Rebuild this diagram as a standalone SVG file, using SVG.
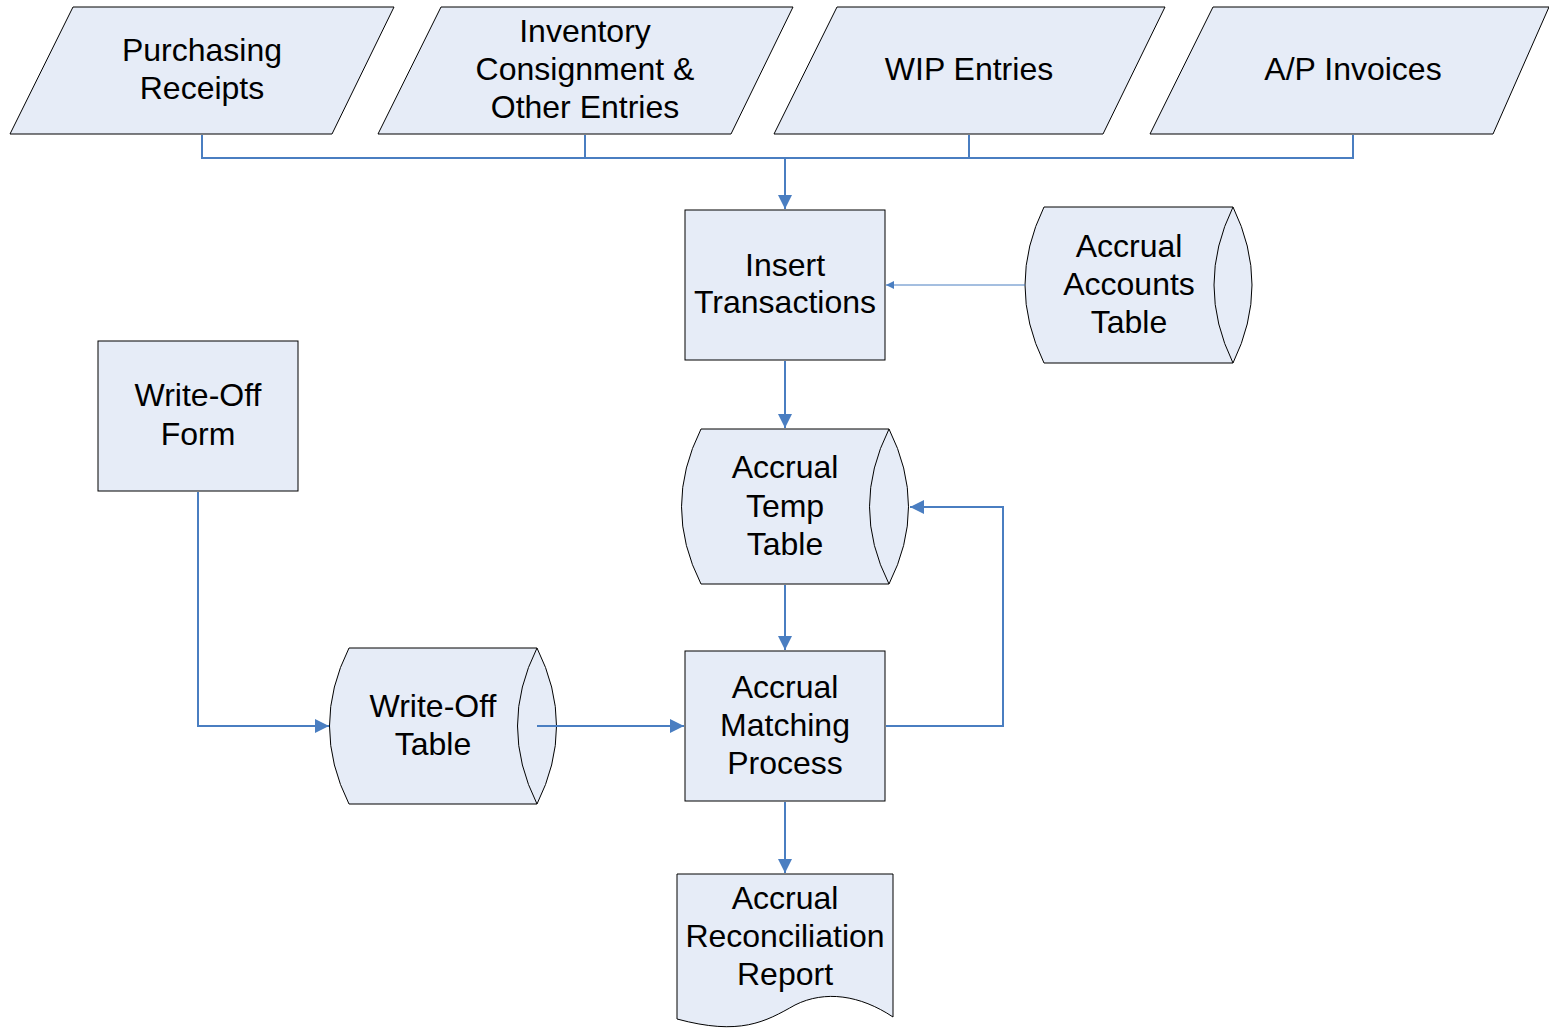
<svg xmlns="http://www.w3.org/2000/svg" width="1549" height="1031" viewBox="0 0 1549 1031">
<defs>
<style>
.s{fill:#E6ECF7;stroke:#000;stroke-width:1}
.i{fill:none;stroke:#000;stroke-width:1}
.t{font-family:"Liberation Sans",Arial,sans-serif;font-size:32px;fill:#000;text-anchor:middle}
.c{fill:none;stroke:#4A7EC1;stroke-width:2}
.c1{fill:none;stroke:#4A7EC1;stroke-width:1}
</style>
<marker id="a" viewBox="0 0 10 10" refX="10" refY="5" markerWidth="8" markerHeight="8" markerUnits="userSpaceOnUse" orient="auto"><path d="M0,0L10,5L0,10z" fill="#4A7EC1"/></marker>
<marker id="b" viewBox="0 0 10 10" refX="10" refY="5" markerWidth="14" markerHeight="14" markerUnits="userSpaceOnUse" orient="auto"><path d="M0,0L10,5L0,10z" fill="#4A7EC1"/></marker>
</defs>
<rect width="1549" height="1031" fill="#fff"/>
<g id="purchasing"><path class="s" d="M73,7H394L332,134H10Z"/><text class="t" x="202" y="61">Purchasing</text><text class="t" x="202" y="99">Receipts</text></g>
<g id="inventory"><path class="s" d="M441,7H793L731,134H378Z"/><text class="t" x="585" y="42">Inventory</text><text class="t" x="585" y="80">Consignment &amp;</text><text class="t" x="585" y="118">Other Entries</text></g>
<g id="wip"><path class="s" d="M837,7H1165L1103,134H774Z"/><text class="t" x="969" y="80">WIP Entries</text></g>
<g id="ap"><path class="s" d="M1213,7H1549L1493,134H1150Z"/><text class="t" x="1353" y="80">A/P Invoices</text></g>
<g id="insert"><rect class="s" x="685" y="210" width="200" height="150"/><text class="t" x="785" y="276">Insert</text><text class="t" x="785" y="313">Transactions</text></g>
<g id="accounts"><path class="s" d="M1044,207H1233Q1271,285 1233,363H1044Q1006,285 1044,207Z"/><path class="i" d="M1233,207Q1195,285 1233,363"/><text class="t" x="1129" y="257">Accrual</text><text class="t" x="1129" y="295">Accounts</text><text class="t" x="1129" y="333">Table</text></g>
<g id="writeoffform"><rect class="s" x="98" y="341" width="200" height="150"/><text class="t" x="198" y="406">Write-Off</text><text class="t" x="198" y="445">Form</text></g>
<g id="temp"><path class="s" d="M701,429H889Q928,507 889,584H701Q662,507 701,429Z"/><path class="i" d="M889,429Q850,507 889,584"/><text class="t" x="785" y="478">Accrual</text><text class="t" x="785" y="517">Temp</text><text class="t" x="785" y="555">Table</text></g>
<g id="writeofftable"><path class="s" d="M349,648H537Q576,726 537,804H349Q310,726 349,648Z"/><path class="i" d="M537,648Q498,726 537,804"/><text class="t" x="433" y="717">Write-Off</text><text class="t" x="433" y="755">Table</text></g>
<g id="matching"><rect class="s" x="685" y="651" width="200" height="150"/><text class="t" x="785" y="698">Accrual</text><text class="t" x="785" y="736">Matching</text><text class="t" x="785" y="774">Process</text></g>
<g id="report"><path class="s" d="M677,874H893V1017C860,995 825,990 795,1005C765,1022 740,1036 677,1019Z"/><text class="t" x="785" y="909">Accrual</text><text class="t" x="785" y="947">Reconciliation</text><text class="t" x="785" y="985">Report</text></g>
<g id="connectors">
<path class="c" d="M202,135V158H1353V135M585,135V158M969,135V158"/>
<path class="c" d="M785,158V209" marker-end="url(#b)"/>
<path class="c1" d="M1025,285H886" marker-end="url(#a)"/>
<path class="c" d="M785,361V428" marker-end="url(#b)"/>
<path class="c" d="M785,585V650" marker-end="url(#b)"/>
<path class="c" d="M886,726H1003V507H910" marker-end="url(#b)"/>
<path class="c" d="M198,492V726H329" marker-end="url(#b)"/>
<path class="c" d="M537,726H684" marker-end="url(#b)"/>
<path class="c" d="M785,802V873" marker-end="url(#b)"/>
</g>
</svg>
